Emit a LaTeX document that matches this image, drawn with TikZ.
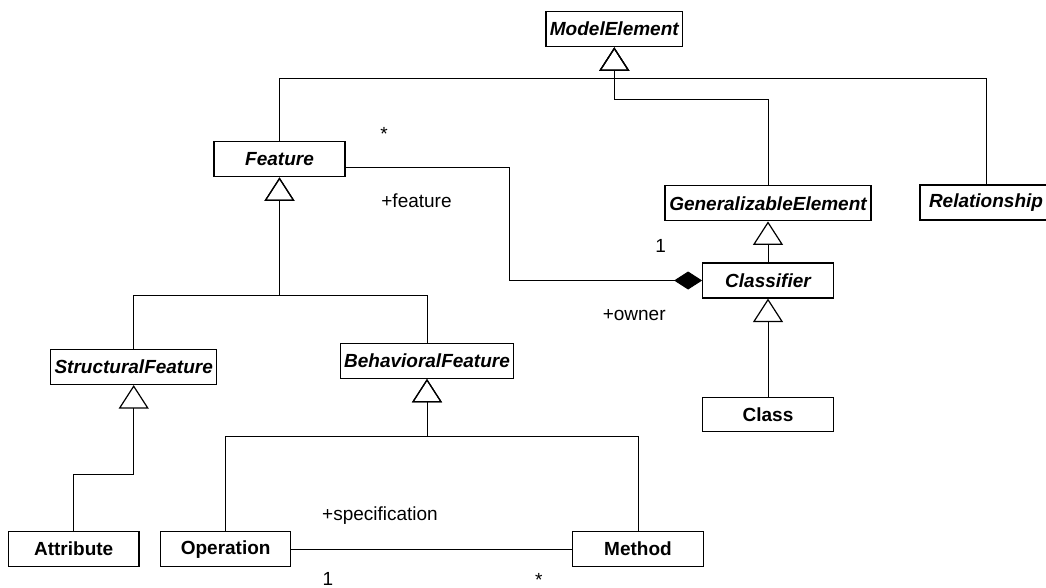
\documentclass[tikz,border=0pt]{standalone}
\usepackage{fontspec}
\setmainfont{Liberation Sans}
\usetikzlibrary{arrows.meta}
\begin{document}
\begin{tikzpicture}[x=1pt,y=-1pt,
  every node/.style={font=\fontsize{19}{23}\selectfont},
  abs/.style={draw, line width=1.2pt, inner sep=0pt, minimum height=35pt, font=\fontsize{19}{23}\selectfont\bfseries\itshape},
  conc/.style={draw, line width=1.2pt, inner sep=0pt, minimum height=35pt, font=\fontsize{19}{23}\selectfont\bfseries},
  gen/.style={line width=1pt, -{Triangle[open, length=23.5pt, width=30pt, line width=1.2pt]}},
  comp/.style={line width=1pt, {Diamond[length=28pt, width=18pt]}-},
  assoc/.style={line width=1pt},
  lbl/.style={inner sep=0pt, anchor=base, font=\fontsize{19}{23}\selectfont}]
\clip (0,0) rectangle (1046,588);
\fill[white] (0,0) rectangle (1046,588);

% classes
\node[abs, minimum width=136.7pt] (me) at (614.3,29.2) {ModelElement};
\node[abs, minimum width=131pt] (feature) at (279.5,159.3) {Feature};
\node[abs, minimum width=206pt] (ge) at (768,203.3) {GeneralizableElement};
\node[abs, minimum width=132pt] (rel) at (986,202.5) {Relationship};
\node[abs, minimum width=130.6pt] (classifier) at (768,280.5) {Classifier};
\node[conc, minimum width=131pt, minimum height=34pt] (class) at (768,414.6) {Class};
\node[abs, minimum width=166pt] (sf) at (133.7,367) {StructuralFeature};
\node[abs, minimum width=173.7pt] (bf) at (427,360.8) {BehavioralFeature};
\node[conc, minimum width=130.7pt] (attr) at (73.7,549.2) {Attribute};
\node[conc, minimum width=130pt] (oper) at (225.7,549.2) {Operation};
\node[conc, minimum width=130.6pt] (meth) at (638,549.2) {Method};

% junction points
\coordinate (jm) at (614.3,79);
\coordinate (jg) at (614.3,99.3);
\coordinate (jf) at (279.5,295.7);
\coordinate (jb) at (427,436);
\coordinate (js) at (133.7,474.3);
\coordinate (ja) at (509.3,280.5);

% generalizations
\draw[gen] (feature.north) |- (jm) -- (me.south);
\draw[gen] (rel.north) |- (jm) -- (me.south);
\draw[gen] (ge.north) |- (jg) -- (me.south);
\draw[gen] (sf.north) |- (jf) -- (feature.south);
\draw[gen] (bf.north) |- (jf) -- (feature.south);
\draw[gen] (attr.north) |- (js) -- (sf.south);
\draw[gen] (oper.north) |- (jb) -- (bf.south);
\draw[gen] (meth.north) |- (jb) -- (bf.south);
\draw[gen] (classifier.north) -- (ge.south);
\draw[gen] (class.north) -- (classifier.south);

% associations
\draw[comp] (classifier.west) -- (ja) |- ([yshift=-8.4pt]feature.east);
\draw[assoc] (oper.east) -- (meth.west);

% labels
\node[lbl] (l1) at (384,141) {*};
\node[lbl] (l2) at (416.5,207.3) {+feature};
\node[lbl] (l3) at (660.7,252.3) {1};
\node[lbl] (l4) at (634.2,320.5) {+owner};
\node[lbl] (l5) at (380,520) {+specification};
\node[lbl] (l6) at (328,585.5) {1};
\node[lbl] (l7) at (538.7,586) {*};
\end{tikzpicture}
\end{document}
